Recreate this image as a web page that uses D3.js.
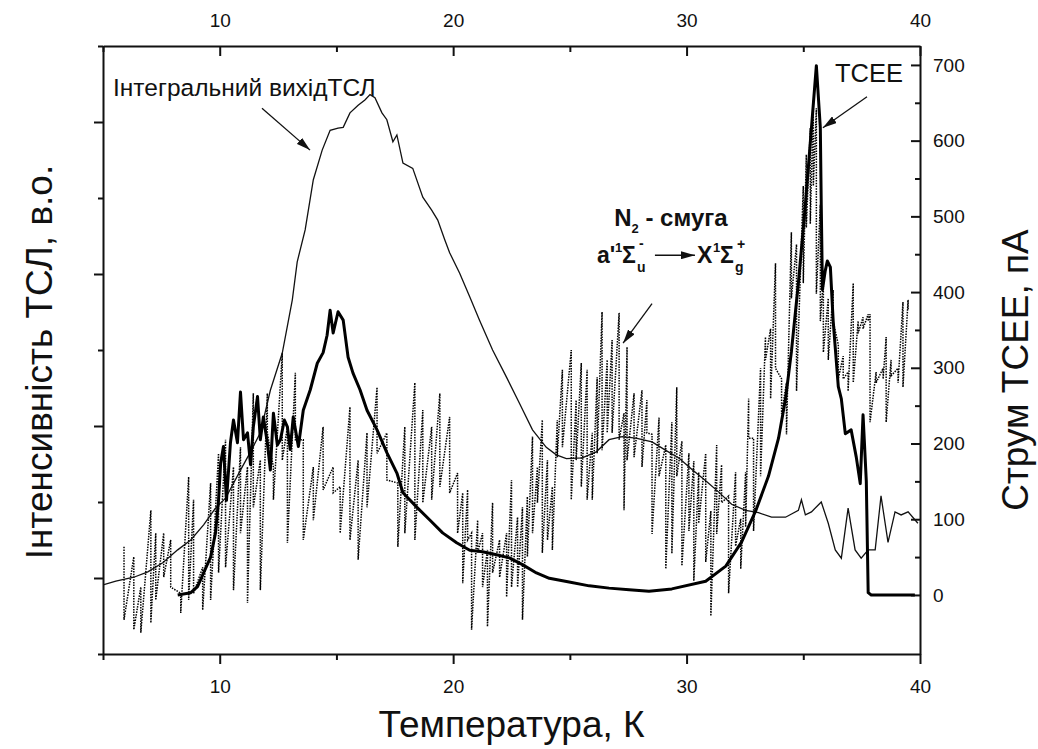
<!DOCTYPE html>
<html>
<head>
<meta charset="utf-8">
<script src="https://cdn.jsdelivr.net/npm/d3@7"></script>
<style>
  body { margin: 0; background: #fff; }
  text { font-family: "Liberation Sans", Arial, sans-serif; fill: #111; }
</style>
</head>
<body>
<svg id="chart" width="1038" height="749"></svg>
<script>

// temperature ticks (top and bottom axes)
const tempMajor = [10, 20, 30, 40];
const tempMinor = [5, 15, 25, 35];
// TSL intensity ticks, arbitrary units (no labels)
const tslMajor = [0, 2, 4, 6];
const tslMinor = [-1, 1, 3, 5, 7];
// TCEE current ticks, pA
const currentLabels = [0, 100, 200, 300, 400, 500, 600, 700];
const currentMinor = [50, 150, 250, 350, 450, 550, 650];

// integral TSL output, [T (K), intensity a.u.]
const tslData = [
  [5.00,-0.09],[5.55,-0.04],[6.32,0.01],[6.92,0.08],[7.56,0.20],[8.20,0.37],[8.76,0.50],
  [9.31,0.70],[9.82,0.92],[10.25,1.05],[10.89,1.42],[11.32,1.66],[11.74,1.91],[12.17,2.47],
  [12.68,2.96],[13.11,3.66],[13.32,4.16],[13.66,4.58],[14.01,5.24],[14.39,5.63],[14.73,5.89],
  [15.07,5.92],[15.29,5.93],[15.58,6.12],[15.93,6.22],[16.22,6.29],[16.44,6.36],[16.65,6.32],
  [16.95,6.12],[17.16,6.03],[17.42,5.74],[17.59,5.83],[17.85,5.46],[18.27,5.39],[18.70,5.01],
  [19.08,4.84],[19.34,4.71],[19.64,4.45],[19.85,4.28],[20.28,4.01],[20.71,3.70],[21.13,3.39],
  [21.69,3.00],[22.29,2.64],[22.84,2.30],[23.40,1.95],[23.99,1.72],[24.42,1.62],[24.85,1.57],
  [25.53,1.58],[26.13,1.66],[26.68,1.82],[27.24,1.86],[27.83,1.84],[28.52,1.79],[29.11,1.68],
  [29.67,1.58],[30.22,1.43],[30.82,1.28],[31.38,1.13],[31.93,0.97],[32.53,0.89],[33.08,0.86],
  [33.64,0.80],[34.24,0.80],[34.79,0.89],[34.92,1.03],[35.09,0.83],[35.35,0.87],[35.77,1.00],
  [36.07,0.72],[36.37,0.37],[36.63,0.26],[36.92,0.92],[37.22,0.37],[37.48,0.26],[37.78,0.37],
  [38.08,0.37],[38.33,1.08],[38.63,0.47],[38.93,0.87],[39.19,0.83],[39.49,0.87],[39.91,0.72]
];

// TCEE current, [T (K), pA]
const tceeData = [
  [8.20,0],[8.76,3],[9.05,11],[9.31,29],[9.61,50],[9.82,82],[9.95,125],[10.04,174],[10.16,196],
  [10.29,125],[10.46,201],[10.59,231],[10.76,201],[10.89,268],[11.02,205],[11.19,214],[11.32,172],
  [11.44,222],[11.62,262],[11.74,205],[11.87,235],[12.04,201],[12.17,165],[12.30,240],[12.47,198],
  [12.60,205],[12.77,231],[12.90,222],[13.02,192],[13.15,235],[13.37,196],[13.58,244],[13.88,271],
  [14.18,306],[14.43,320],[14.60,343],[14.73,376],[14.86,346],[15.07,374],[15.29,363],[15.50,314],
  [15.71,293],[16.01,271],[16.31,244],[16.74,218],[17.16,188],[17.59,161],[17.85,135],[18.44,116],
  [19.00,99],[19.55,82],[20.15,69],[20.71,59],[21.26,57],[21.86,53],[22.41,49],[22.97,40],
  [23.57,29],[24.12,22],[24.97,17],[25.83,12],[26.68,9],[27.54,7],[28.39,5],[29.37,8],[30.82,18],
  [31.68,38],[32.36,70],[32.96,111],[33.51,157],[33.94,207],[34.24,259],[34.49,321],[34.79,412],
  [35.09,515],[35.35,617],[35.56,699],[35.73,617],[35.77,515],[35.82,403],[35.94,428],[36.03,441],
  [36.16,433],[36.28,362],[36.50,275],[36.63,259],[36.80,213],[37.05,218],[37.27,182],[37.44,147],
  [37.56,238],[37.70,150],[37.78,3],[37.91,0],[39.78,0]
];

// N2 band a'1Σu- -> X1Σg+ (dotted), each stroke [T (K), high, low] in TSL a.u.
const bandData = [
  [5.90,0.41,-0.55],[6.32,0.28,-0.68],[6.62,-0.12,-0.72],[7.05,0.89,-0.59],[7.26,0.59,-0.29],
  [7.60,0.59,0.01],[7.90,0.50,-0.12],[8.33,-0.20,-0.46],[8.67,1.33,-0.29],[8.88,1.03,-0.20],
  [9.27,0.14,-0.42],[9.61,1.25,-0.29],[9.95,1.64,0.07],[10.25,1.82,0.14],[10.59,1.46,-0.16],
  [10.89,1.72,0.59],[11.19,1.46,-0.33],[11.44,2.43,0.93],[11.74,1.55,-0.16],[12.04,2.43,1.91],
  [12.30,1.46,1.03],[12.68,2.96,1.55],[12.90,1.99,0.46],[13.24,2.70,1.82],[13.58,1.82,0.50],
  [14.01,1.46,0.76],[14.43,1.99,1.16],[14.86,1.46,1.12],[15.16,1.20,0.59],[15.58,2.25,0.50],
  [15.93,1.55,0.24],[16.31,1.91,0.93],[16.74,2.51,1.64],[17.16,1.91,1.29],[17.63,1.25,0.41],
  [17.93,1.99,0.59],[18.36,2.57,0.50],[18.70,2.21,0.99],[19.08,1.99,1.03],[19.43,2.43,1.20],
  [19.85,2.12,1.12],[20.19,1.38,0.59],[20.41,1.12,-0.07],[20.62,1.16,0.50],[20.79,0.59,-0.68],
  [21.05,0.76,0.33],[21.26,0.59,-0.12],[21.47,0.37,-0.64],[21.69,0.99,0.07],[21.99,0.50,0.01],
  [22.29,0.59,-0.25],[22.50,1.29,-0.12],[22.76,0.80,-0.12],[22.97,0.93,-0.55],[23.18,1.07,0.28],
  [23.40,1.86,0.59],[23.61,1.46,0.99],[23.82,2.08,0.33],[24.04,1.55,0.50],[24.25,1.20,0.37],
  [24.46,2.08,1.59],[24.68,2.74,1.72],[25.06,3.00,1.03],[25.27,2.34,1.55],[25.49,2.83,1.20],
  [25.74,2.74,1.03],[25.96,1.91,1.03],[26.17,2.64,1.64],[26.38,3.50,1.68],[26.60,2.87,1.91],
  [26.81,3.13,1.91],[27.11,3.49,1.82],[27.32,2.17,0.89],[27.45,3.04,1.55],[27.75,2.43,1.59],
  [28.09,2.47,1.46],[28.30,2.34,1.91],[28.52,1.89,0.58],[28.82,2.11,1.34],[29.11,1.75,0.12],
  [29.37,2.05,0.32],[29.58,2.51,1.34],[29.80,1.80,0.16],[30.10,1.64,0.62],[30.31,1.54,-0.04],
  [30.52,1.39,0.72],[30.82,1.64,0.21],[31.04,0.88,-0.50],[31.29,1.75,0.58],[31.50,1.49,0.99],
  [31.80,1.08,-0.20],[32.10,1.39,0.42],[32.32,0.78,0.12],[32.53,1.39,0.67],[32.66,2.36,1.84],
  [32.87,1.84,0.62],[33.17,2.76,1.34],[33.38,3.17,2.87],[33.60,3.28,2.36],[33.81,4.14,2.76],
  [34.07,2.62,2.16],[34.28,2.57,1.89],[34.49,4.55,3.68],[34.71,4.39,2.46],[35.00,5.16,3.88],
  [35.13,5.57,4.61],[35.30,5.92,4.66],[35.43,6.29,5.16],[35.56,6.18,3.74],[35.73,4.91,3.38],
  [35.86,3.93,2.97],[36.07,3.68,2.87],[36.28,3.79,3.38],[36.50,3.07,2.62],[36.71,2.92,2.62],
  [36.92,2.71,2.46],[37.14,3.88,2.57],[37.35,3.38,3.22],[37.56,3.43,3.28],[37.78,3.47,3.38],
  [37.86,3.47,2.05],[38.12,2.71,2.57],[38.42,2.76,2.62],[38.55,3.17,2.05],[38.76,2.87,2.66],
  [39.06,2.76,2.57],[39.27,3.63,2.51],[39.49,3.66,3.53]
];

const svg = d3.select("#chart");

// plot frame
const plotLeft = 103, plotRight = 920, plotTop = 46, plotBottom = 654;

const x = d3.scaleLinear().domain([5, 40]).range([plotLeft, plotRight]);
const yL = d3.scaleLinear().domain([-1, 7]).range([plotBottom, plotTop]);
const yR = d3.scaleLinear().domain([-78, 725]).range([plotBottom, plotTop]);

const defs = svg.append("defs");
defs.append("clipPath").attr("id", "clip")
  .append("rect").attr("x", plotLeft).attr("y", plotTop)
  .attr("width", plotRight - plotLeft).attr("height", plotBottom - plotTop);

const marker = defs.append("marker")
  .attr("id", "arrow")
  .attr("viewBox", "0 0 14 8")
  .attr("refX", 14).attr("refY", 4)
  .attr("markerWidth", 14).attr("markerHeight", 8)
  .attr("markerUnits", "userSpaceOnUse")
  .attr("orient", "auto");
marker.append("path").attr("d", "M0,0 L14,4 L0,8 Z").attr("fill", "#111");

// style an axis group
function styleAxis(g) {
  g.selectAll(".domain").attr("stroke", "#111").attr("stroke-width", 2);
  g.selectAll(".tick line").attr("stroke", "#111").attr("stroke-width", 2);
  g.selectAll(".tick text").attr("font-size", 19).attr("fill", "#111")
    .attr("font-family", "Liberation Sans, Arial, sans-serif");
}

// bottom axis
const gb = svg.append("g").attr("transform", `translate(0,${plotBottom})`)
  .call(d3.axisBottom(x).tickValues(tempMajor).tickSize(10).tickSizeOuter(0).tickPadding(16));
styleAxis(gb);
const gbm = svg.append("g").attr("transform", `translate(0,${plotBottom})`)
  .call(d3.axisBottom(x).tickValues(tempMinor).tickSize(6).tickFormat(""));
gbm.select(".domain").remove();
styleAxis(gbm);

// top axis, ticks pointing in
const gt = svg.append("g").attr("transform", `translate(0,${plotTop})`)
  .call(d3.axisTop(x).tickValues(tempMajor).tickSize(-10).tickSizeOuter(0).tickPadding(19));
styleAxis(gt);
const gtm = svg.append("g").attr("transform", `translate(0,${plotTop})`)
  .call(d3.axisTop(x).tickValues(tempMinor).tickSize(-6).tickFormat(""));
gtm.select(".domain").remove();
styleAxis(gtm);

// left axis, unlabeled
const gl = svg.append("g").attr("transform", `translate(${plotLeft},0)`)
  .call(d3.axisLeft(yL).tickValues(tslMajor).tickSize(9).tickSizeOuter(0).tickFormat(""));
styleAxis(gl);
const glm = svg.append("g").attr("transform", `translate(${plotLeft},0)`)
  .call(d3.axisLeft(yL).tickValues(tslMinor).tickSize(5).tickFormat(""));
glm.select(".domain").remove();
styleAxis(glm);

// right axis (TCEE current)
const gr = svg.append("g").attr("transform", `translate(${plotRight},0)`)
  .call(d3.axisRight(yR).tickValues(currentLabels).tickSize(-9).tickSizeOuter(0).tickPadding(13));
styleAxis(gr);
const grm = svg.append("g").attr("transform", `translate(${plotRight},0)`)
  .call(d3.axisRight(yR).tickValues(currentMinor).tickSize(-5).tickFormat(""));
grm.select(".domain").remove();
styleAxis(grm);

const plot = svg.append("g").attr("clip-path", "url(#clip)");

// dotted N2 band: each stroke drawn from high to low
const bandPts = [];
bandData.forEach(d => { bandPts.push([d[0], d[1]]); bandPts.push([d[0], d[2]]); });
plot.append("path")
  .datum(bandPts)
  .attr("fill", "none")
  .attr("stroke", "#000")
  .attr("stroke-width", 1.5)
  .attr("stroke-dasharray", "1.5,1.2")
  .attr("d", d3.line().x(d => x(d[0])).y(d => yL(d[1])));

// integral TSL
plot.append("path")
  .datum(tslData)
  .attr("fill", "none")
  .attr("stroke", "#111")
  .attr("stroke-width", 1.3)
  .attr("d", d3.line().x(d => x(d[0])).y(d => yL(d[1])));

// TCEE
plot.append("path")
  .datum(tceeData)
  .attr("fill", "none")
  .attr("stroke", "#000")
  .attr("stroke-width", 3)
  .attr("stroke-linejoin", "round")
  .attr("d", d3.line().x(d => x(d[0])).y(d => yR(d[1])));

// annotations
function arrow(x1, y1, x2, y2) {
  svg.append("line")
    .attr("x1", x1).attr("y1", y1).attr("x2", x2).attr("y2", y2)
    .attr("stroke", "#111").attr("stroke-width", 1.3)
    .attr("marker-end", "url(#arrow)");
}

svg.append("text").attr("x", x(5.43)).attr("y", yL(6.34))
  .attr("font-size", 24.5).text("Інтегральний вихідТСЛ");
arrow(x(11.81), yL(6.18), x(13.87), yL(5.63));

svg.append("text").attr("x", x(36.36)).attr("y", yR(678))
  .attr("font-size", 25.5).text("TCEE");
arrow(x(37.73), yR(658), x(35.84), yR(617));

// N2 band label
const nx = x(26.9), ny = yL(4.63);
const n2 = svg.append("text").attr("x", nx).attr("y", ny)
  .attr("font-size", 24).attr("font-weight", "bold");
n2.append("tspan").text("N");
n2.append("tspan").attr("font-size", 13).attr("dy", 7).text("2");
n2.append("tspan").attr("dy", -7).text(" - смуга");

const bx = x(26.16), by = yL(4.26) + 9;
function btxt(dx, dy, s, size) {
  svg.append("text").attr("x", bx + dx).attr("y", by + dy)
    .attr("font-size", size).attr("font-weight", "bold").text(s);
}
btxt(0, 0, "a'", 23);
btxt(18, -11, "1", 13);
btxt(25, 0, "Σ", 23);
btxt(40, 9, "u", 14);
btxt(42, -15, "-", 14);
btxt(100, 0, "X", 23);
btxt(116, -11, "1", 13);
btxt(123, 0, "Σ", 23);
btxt(138, 9, "g", 14);
btxt(140, -14, "+", 14);
arrow(bx + 58, by - 8, bx + 98, by - 8);
arrow(x(28.52), yL(3.61), x(27.28), yL(3.09));

// axis titles
svg.append("text").attr("x", (plotLeft + plotRight) / 2).attr("y", 737)
  .attr("text-anchor", "middle").attr("font-size", 37).text("Температура, К");
svg.append("text")
  .attr("transform", `translate(52,${(plotTop + plotBottom) / 2 + 12}) rotate(-90)`)
  .attr("text-anchor", "middle").attr("font-size", 37).text("Інтенсивність ТСЛ, в.о.");
svg.append("text")
  .attr("transform", `translate(1028,370) rotate(-90)`)
  .attr("text-anchor", "middle").attr("font-size", 37).text("Струм ТСЕЕ, пА");

</script>
</body>
</html>
